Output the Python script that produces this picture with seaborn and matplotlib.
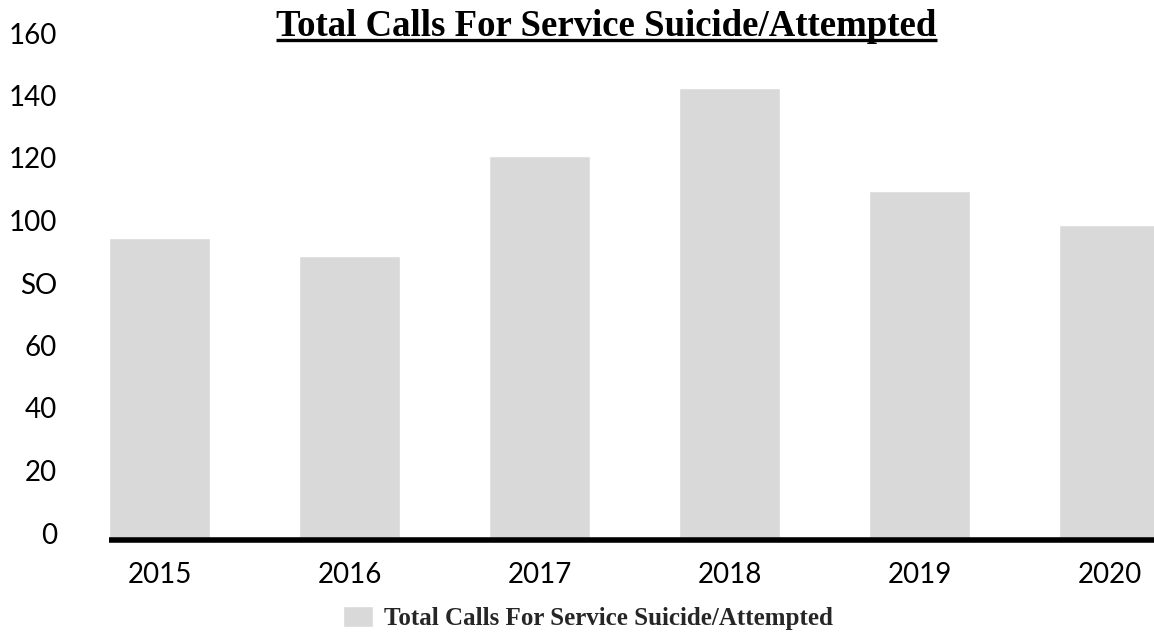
import matplotlib
matplotlib.use("Agg")
import matplotlib.pyplot as plt
from matplotlib.lines import Line2D
from matplotlib.transforms import ScaledTranslation
import seaborn as sns
import pandas as pd

# Data
years = ["2015", "2016", "2017", "2018", "2019", "2020"]
calls = [96, 90, 122, 144, 111, 100]
y_ticks = [0, 20, 40, 60, 80, 100, 120, 140, 160]
y_tick_labels = ["0", "20", "40", "60", "SO", "100", "120", "140", "160"]
series_name = "Total Calls For Service Suicide/Attempted"
chart_title = "Total Calls For Service Suicide/Attempted"

sns.set_style("white")
plt.rcParams["font.family"] = ["Lato", "DejaVu Sans"]

W, H = 1154, 632
fig = plt.figure(figsize=(W / 100, H / 100), dpi=100)
ax = fig.add_axes([109 / W, 94.5 / H, 1 - 109 / W, 500 / H])

df = pd.DataFrame({"year": years, "calls": calls})
sns.barplot(data=df, x="year", y="calls", color="#d9d9d9", saturation=1,
            width=0.532, label=series_name, ax=ax)

ax.set_xlim(-0.266, 5.234)
ax.set_ylim(0, 160)
ax.set_yticks(y_ticks, y_tick_labels)
ax.set_xlabel("")
ax.set_ylabel("")
ax.grid(False)

for side in ("left", "top", "right"):
    ax.spines[side].set_visible(False)
ax.spines["bottom"].set_color("black")
ax.spines["bottom"].set_linewidth(4)
ax.spines["bottom"].set_position(("outward", 2))
ax.spines["bottom"].set_capstyle("butt")

ax.tick_params(axis="both", length=0, labelsize=20, colors="black")
ax.tick_params(axis="y", pad=37.4)
ax.tick_params(axis="x", pad=15.3)
shift = ScaledTranslation(0, 4.5 / 100, fig.dpi_scale_trans)
for lbl in ax.get_yticklabels():
    lbl.set_transform(lbl.get_transform() + shift)

# Title with underline
title = fig.text(606.5 / W, 1 - 36 / H, chart_title, ha="center", va="baseline",
                 family="Liberation Serif", weight="bold", size=26.5, color="black")

# Legend
handles, labels = ax.get_legend_handles_labels()
if ax.get_legend() is not None:
    ax.get_legend().remove()
fig.legend(handles, labels, loc="center", bbox_to_anchor=(587.5 / W, 1 - 618 / H),
           frameon=False, prop={"family": "Liberation Serif", "weight": "bold", "size": 18},
           handlelength=1.2, handleheight=0.92, handletextpad=0.44)

fig.canvas.draw()
bb = title.get_window_extent(fig.canvas.get_renderer())
uy = (H - 40) / H
fig.add_artist(Line2D([bb.x0 / W, bb.x1 / W], [uy, uy], transform=fig.transFigure,
                      color="black", linewidth=2.4, solid_capstyle="butt"))

fig.savefig("out.png", dpi=100)
